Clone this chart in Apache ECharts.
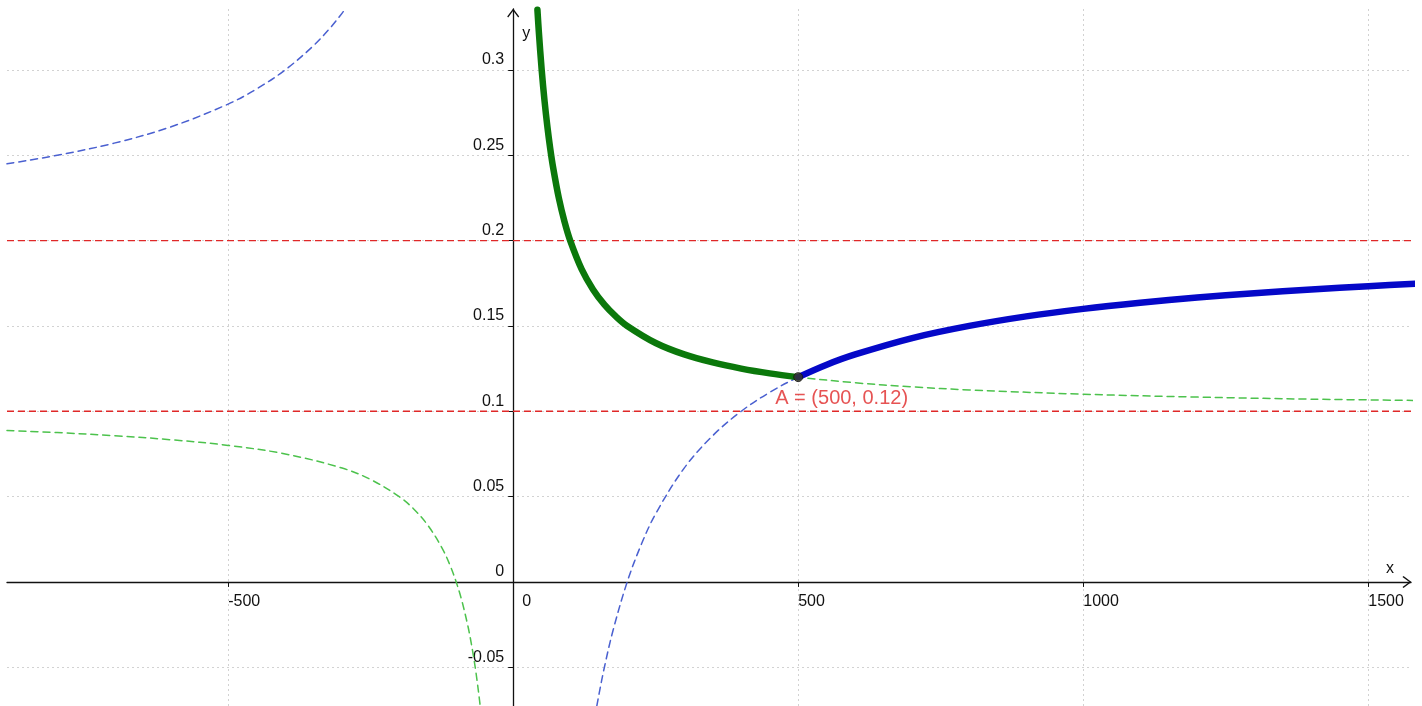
<!DOCTYPE html>
<html>
<head>
<meta charset="utf-8">
<script src="https://cdn.jsdelivr.net/npm/echarts@6/dist/echarts.min.js"></script>
<style>
html,body{margin:0;padding:0;background:#fff;}
#chart{width:1422px;height:706px;}
</style>
</head>
<body>
<div id="chart"></div>
<script>
// ---- data ----
const xTicks = [-500, 0, 500, 1000, 1500];
const yTicks = [-0.05, 0, 0.05, 0.1, 0.15, 0.2, 0.25, 0.3];
const xRange = [-888, 1575];
const yRange = [-0.0727, 0.3357];
const xSpan = [-888, 1595];
const asymptoteY = [0.1, 0.2];

// green curve, right branch
const greenRightX = [42.5, 45, 50, 55, 60, 65, 70, 80, 90, 100, 120, 140, 160, 180, 200, 250, 300, 350, 400, 450, 500, 600, 700, 800, 1000, 1200, 1400, 1595];
const greenRightY = [0.3353, 0.3222, 0.3, 0.2818, 0.2667, 0.2538, 0.2429, 0.225, 0.2111, 0.2, 0.1833, 0.1714, 0.1625, 0.1556, 0.15, 0.14, 0.1333, 0.1286, 0.125, 0.1222, 0.12, 0.1167, 0.1143, 0.1125, 0.11, 0.1083, 0.1071, 0.1063];
// green curve, left branch
const greenLeftX = [-888, -800, -700, -600, -500, -400, -300, -250, -200, -175, -150, -125, -110, -100, -90, -80, -75, -70, -65, -60, -57.9];
const greenLeftY = [0.0887, 0.0875, 0.0857, 0.0833, 0.08, 0.075, 0.0667, 0.06, 0.05, 0.0429, 0.0333, 0.02, 0.0091, 0, -0.0111, -0.025, -0.0333, -0.0429, -0.0538, -0.0667, -0.0727];
// blue curve, left branch
const blueLeftX = [-888, -800, -700, -600, -500, -450, -400, -350, -320, -300, -294.8];
const blueLeftY = [0.245, 0.25, 0.2571, 0.2667, 0.28, 0.2889, 0.3, 0.3143, 0.325, 0.3333, 0.3357];
// blue curve, right branch
const blueRightX = [146.7, 150, 160, 175, 200, 225, 250, 300, 350, 400, 450, 500, 550, 600, 700, 800, 900, 1000, 1100, 1200, 1300, 1400, 1500, 1595];
const blueRightY = [-0.0727, -0.0667, -0.05, -0.0286, 0, 0.0222, 0.04, 0.0667, 0.0857, 0.1, 0.1111, 0.12, 0.1273, 0.1333, 0.1429, 0.15, 0.1556, 0.16, 0.1636, 0.1667, 0.1692, 0.1714, 0.1733, 0.1749];
// intersection point
const pointA = [500, 0.12];
const pointALabel = 'A = (500, 0.12)';

// ---- build ----
const zip = (xs, ys) => xs.map((x, i) => [x, ys[i]]);
const greenRight = zip(greenRightX, greenRightY);
const greenLeft = zip(greenLeftX, greenLeftY);
const blueLeft = zip(blueLeftX, blueLeftY);
const blueRight = zip(blueRightX, blueRightY);
const greenThick = greenRight.filter(p => p[0] <= pointA[0]);
const blueThick = blueRight.filter(p => p[0] >= pointA[0]);

const FONT = 'Liberation Sans, Arial, sans-serif';
const arrowPath = 'path://M0,0 L6,8 L5,9 L0,2.2 L-5,9 L-6,8 Z';

const W = 1422, H = 706;
const gridL = 7, gridR = 11, gridT = 9, gridB = 0;
// pixel offsets of the zero lines inside the grid, derived from the axis ranges
const yAxisOffset = -((0 - xRange[0]) / (xRange[1] - xRange[0])) * (W - gridL - gridR);
const xAxisOffset = -((0 - yRange[0]) / (yRange[1] - yRange[0])) * (H - gridT - gridB);

function curve(data, color, width, dashed, z) {
  return {
    type: 'line', data: data, showSymbol: false, symbol: 'none',
    smooth: 0.35, clip: false, silent: true, z: z,
    lineStyle: { color: color, width: width, type: dashed ? [7, 5] : 'solid', cap: 'round', join: 'round' }
  };
}

const series = [];
asymptoteY.forEach(v => {
  series.push({
    type: 'line', data: [[xSpan[0], v], [xSpan[1], v]], showSymbol: false, symbol: 'none',
    clip: false, silent: true, z: 2,
    lineStyle: { color: '#e02828', width: 1.4, type: [7, 4] }
  });
});
series.push(curve(greenLeft, '#4cc24c', 1.5, true, 3));
series.push(curve(blueLeft, '#4a60d0', 1.5, true, 3));
series.push(curve(greenRight, '#4cc24c', 1.5, true, 3));
series.push(curve(blueRight, '#4a60d0', 1.5, true, 3));
series.push(curve(greenThick, '#0b780b', 6.5, false, 5));
series.push(curve(blueThick, '#0508c8', 6.5, false, 5));
series.push({
  type: 'scatter', data: [pointA], symbolSize: 9, z: 10, silent: true,
  itemStyle: { color: '#3a3a22', borderColor: '#111', borderWidth: 1 },
  label: {
    show: true, formatter: pointALabel, position: [-18, 16], align: 'left', verticalAlign: 'top',
    color: '#e02828', fontSize: 20, fontFamily: FONT
  }
});

const chart = echarts.init(document.getElementById('chart'), null, { renderer: 'canvas' });
chart.setOption({
  animation: false,
  backgroundColor: '#ffffff',
  grid: { left: gridL, right: gridR, top: gridT, bottom: gridB, containLabel: false, outerBoundsMode: 'none' },
  xAxis: {
    type: 'value', min: xRange[0], max: xRange[1], position: 'bottom', offset: xAxisOffset,
    name: 'x', nameLocation: 'end', nameGap: -21,
    nameTextStyle: { color: '#111', fontSize: 16, fontFamily: FONT, align: 'center', verticalAlign: 'bottom', padding: [0, 0, 5, 0] },
    axisLine: { show: true, onZero: false, lineStyle: { color: '#111', width: 1.3 }, symbol: ['none', arrowPath], symbolSize: [12, 10], symbolOffset: [0, -4] },
    axisTick: { show: true, customValues: xTicks, length: 5, lineStyle: { color: '#111' } },
    axisLabel: {
      customValues: xTicks, align: 'left', margin: 12, color: '#111', fontSize: 16, fontFamily: FONT,
      formatter: v => (v === 0 ? '{o|0}' : String(v)),
      rich: { o: { padding: [0, 0, 0, 9], fontSize: 16, fontFamily: FONT, color: '#111' } }
    },
    splitLine: { show: true, lineStyle: { color: '#d2d2d2', width: 1, type: [2, 3] } }
  },
  yAxis: {
    type: 'value', min: yRange[0], max: yRange[1], position: 'left', offset: yAxisOffset,
    name: 'y', nameLocation: 'end', nameGap: -25,
    nameTextStyle: { color: '#111', fontSize: 16, fontFamily: FONT, align: 'left', verticalAlign: 'middle', padding: [0, 0, 0, 9] },
    axisLine: { show: true, onZero: false, lineStyle: { color: '#111', width: 1.3 }, symbol: ['none', arrowPath], symbolSize: [12, 10], symbolOffset: [0, -4] },
    axisTick: { show: true, customValues: yTicks, length: 5, lineStyle: { color: '#111' } },
    axisLabel: {
      customValues: yTicks, margin: 9, color: '#111', fontSize: 16, fontFamily: FONT,
      verticalAlign: 'bottom', lineHeight: 16, padding: [0, 0, 2, 0]
    },
    splitLine: { show: true, lineStyle: { color: '#d2d2d2', width: 1, type: [2, 3] } }
  },
  series: series
});
</script>
</body>
</html>
